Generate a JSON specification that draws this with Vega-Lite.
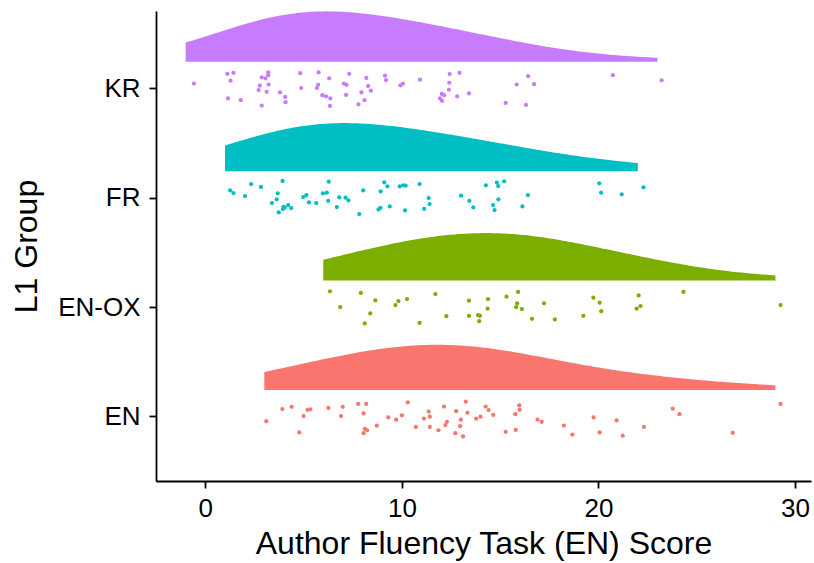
{
  "$schema": "https://vega.github.io/schema/vega-lite/v6.json",
  "autosize": {"type": "none"},
  "padding": {"left": 156, "top": 11, "right": 3, "bottom": 82},
  "width": 655,
  "height": 470,
  "config": {
    "font": "Liberation Sans",
    "view": {"stroke": null},
    "axis": {
      "domainColor": "black", "domainWidth": 1.8,
      "tickColor": "black", "tickWidth": 1.8, "tickSize": 7,
      "labelColor": "black", "labelFontSize": 26,
      "titleColor": "black", "titleFontSize": 32, "titleFontWeight": "normal",
      "grid": false
    }
  },
  "data": {"values": [
    {"g":"KR","score":-0.58,"yv":4.044},{"g":"KR","score":1.12,"yv":4.133},{"g":"KR","score":1.43,"yv":4.142},{"g":"KR","score":1.28,"yv":4.070},{"g":"KR","score":1.15,"yv":3.908},{"g":"KR","score":1.80,"yv":3.892},{"g":"KR","score":2.87,"yv":4.101},{"g":"KR","score":3.06,"yv":4.092},{"g":"KR","score":3.20,"yv":4.146},{"g":"KR","score":3.20,"yv":4.120},{"g":"KR","score":2.77,"yv":4.025},{"g":"KR","score":2.71,"yv":3.984},{"g":"KR","score":3.22,"yv":4.035},{"g":"KR","score":3.12,"yv":3.968},{"g":"KR","score":2.87,"yv":3.842},{"g":"KR","score":3.80,"yv":3.962},{"g":"KR","score":4.06,"yv":3.921},{"g":"KR","score":4.08,"yv":3.873},{"g":"KR","score":4.83,"yv":4.139},{"g":"KR","score":4.88,"yv":4.003},{"g":"KR","score":5.76,"yv":4.146},{"g":"KR","score":6.30,"yv":4.092},{"g":"KR","score":5.74,"yv":4.032},{"g":"KR","score":5.67,"yv":4.003},{"g":"KR","score":5.95,"yv":3.937},{"g":"KR","score":6.14,"yv":3.927},{"g":"KR","score":6.36,"yv":3.908},{"g":"KR","score":6.34,"yv":3.839},{"g":"KR","score":7.32,"yv":4.133},{"g":"KR","score":7.05,"yv":4.044},{"g":"KR","score":7.18,"yv":4.032},{"g":"KR","score":7.16,"yv":3.940},{"g":"KR","score":8.19,"yv":4.095},{"g":"KR","score":8.28,"yv":4.022},{"g":"KR","score":8.42,"yv":3.978},{"g":"KR","score":7.94,"yv":3.962},{"g":"KR","score":8.10,"yv":3.892},{"g":"KR","score":7.79,"yv":3.854},{"g":"KR","score":9.14,"yv":4.117},{"g":"KR","score":9.19,"yv":4.076},{"g":"KR","score":9.92,"yv":4.028},{"g":"KR","score":10.05,"yv":4.044},{"g":"KR","score":10.92,"yv":4.079},{"g":"KR","score":12.43,"yv":4.130},{"g":"KR","score":12.93,"yv":4.142},{"g":"KR","score":12.41,"yv":4.051},{"g":"KR","score":12.39,"yv":3.987},{"g":"KR","score":12.03,"yv":3.949},{"g":"KR","score":12.15,"yv":3.937},{"g":"KR","score":11.94,"yv":3.908},{"g":"KR","score":12.04,"yv":3.886},{"g":"KR","score":12.81,"yv":3.927},{"g":"KR","score":13.41,"yv":3.953},{"g":"KR","score":15.28,"yv":3.867},{"g":"KR","score":15.84,"yv":4.035},{"g":"KR","score":16.42,"yv":4.111},{"g":"KR","score":16.72,"yv":4.038},{"g":"KR","score":16.31,"yv":3.848},{"g":"KR","score":20.73,"yv":4.120},{"g":"KR","score":23.21,"yv":4.073},
    {"g":"FR","score":1.26,"yv":3.067},{"g":"FR","score":1.43,"yv":3.043},{"g":"FR","score":2.02,"yv":3.015},{"g":"FR","score":2.33,"yv":3.125},{"g":"FR","score":2.83,"yv":3.098},{"g":"FR","score":3.93,"yv":3.153},{"g":"FR","score":3.68,"yv":3.040},{"g":"FR","score":3.63,"yv":2.985},{"g":"FR","score":3.39,"yv":2.951},{"g":"FR","score":3.73,"yv":2.865},{"g":"FR","score":3.95,"yv":2.896},{"g":"FR","score":4.04,"yv":2.911},{"g":"FR","score":4.22,"yv":2.933},{"g":"FR","score":4.37,"yv":2.905},{"g":"FR","score":3.97,"yv":2.917},{"g":"FR","score":4.98,"yv":3.006},{"g":"FR","score":5.14,"yv":3.024},{"g":"FR","score":5.27,"yv":2.957},{"g":"FR","score":5.64,"yv":2.951},{"g":"FR","score":5.98,"yv":3.040},{"g":"FR","score":6.18,"yv":3.046},{"g":"FR","score":6.28,"yv":3.147},{"g":"FR","score":6.25,"yv":2.972},{"g":"FR","score":6.69,"yv":2.914},{"g":"FR","score":6.81,"yv":3.003},{"g":"FR","score":7.13,"yv":3.000},{"g":"FR","score":7.28,"yv":2.976},{"g":"FR","score":7.83,"yv":2.850},{"g":"FR","score":8.03,"yv":3.067},{"g":"FR","score":8.92,"yv":3.058},{"g":"FR","score":9.10,"yv":3.141},{"g":"FR","score":9.26,"yv":3.104},{"g":"FR","score":8.81,"yv":2.893},{"g":"FR","score":8.91,"yv":2.908},{"g":"FR","score":9.38,"yv":2.920},{"g":"FR","score":9.89,"yv":3.104},{"g":"FR","score":10.06,"yv":3.113},{"g":"FR","score":10.19,"yv":3.110},{"g":"FR","score":10.16,"yv":2.884},{"g":"FR","score":10.90,"yv":3.125},{"g":"FR","score":11.36,"yv":2.997},{"g":"FR","score":11.41,"yv":2.942},{"g":"FR","score":11.13,"yv":2.899},{"g":"FR","score":13.01,"yv":3.018},{"g":"FR","score":13.43,"yv":2.972},{"g":"FR","score":13.63,"yv":2.911},{"g":"FR","score":14.27,"yv":3.113},{"g":"FR","score":14.83,"yv":3.138},{"g":"FR","score":14.90,"yv":3.107},{"g":"FR","score":15.20,"yv":3.150},{"g":"FR","score":14.91,"yv":2.985},{"g":"FR","score":14.64,"yv":2.933},{"g":"FR","score":14.71,"yv":2.887},{"g":"FR","score":16.13,"yv":2.920},{"g":"FR","score":16.41,"yv":3.024},{"g":"FR","score":20.04,"yv":3.132},{"g":"FR","score":20.13,"yv":3.046},{"g":"FR","score":21.18,"yv":3.031},{"g":"FR","score":22.29,"yv":3.095},
    {"g":"EN-OX","score":6.34,"yv":2.144},{"g":"EN-OX","score":6.86,"yv":2.000},{"g":"EN-OX","score":7.91,"yv":2.129},{"g":"EN-OX","score":8.65,"yv":2.061},{"g":"EN-OX","score":8.39,"yv":1.942},{"g":"EN-OX","score":8.11,"yv":1.850},{"g":"EN-OX","score":9.82,"yv":2.055},{"g":"EN-OX","score":9.67,"yv":2.018},{"g":"EN-OX","score":10.26,"yv":2.073},{"g":"EN-OX","score":10.90,"yv":1.856},{"g":"EN-OX","score":11.70,"yv":2.119},{"g":"EN-OX","score":12.26,"yv":1.917},{"g":"EN-OX","score":13.41,"yv":2.058},{"g":"EN-OX","score":13.41,"yv":1.920},{"g":"EN-OX","score":13.87,"yv":1.927},{"g":"EN-OX","score":13.97,"yv":1.920},{"g":"EN-OX","score":13.93,"yv":1.871},{"g":"EN-OX","score":14.38,"yv":2.073},{"g":"EN-OX","score":14.36,"yv":1.985},{"g":"EN-OX","score":15.32,"yv":2.095},{"g":"EN-OX","score":15.91,"yv":2.138},{"g":"EN-OX","score":15.86,"yv":2.034},{"g":"EN-OX","score":15.81,"yv":2.000},{"g":"EN-OX","score":16.10,"yv":1.982},{"g":"EN-OX","score":16.62,"yv":1.893},{"g":"EN-OX","score":17.23,"yv":2.034},{"g":"EN-OX","score":17.78,"yv":1.887},{"g":"EN-OX","score":19.23,"yv":1.920},{"g":"EN-OX","score":19.74,"yv":2.086},{"g":"EN-OX","score":20.06,"yv":2.040},{"g":"EN-OX","score":20.14,"yv":1.963},{"g":"EN-OX","score":22.04,"yv":2.107},{"g":"EN-OX","score":22.14,"yv":2.009},{"g":"EN-OX","score":21.94,"yv":1.985},{"g":"EN-OX","score":24.32,"yv":2.138},{"g":"EN-OX","score":29.26,"yv":2.018},
    {"g":"EN","score":3.10,"yv":0.957},{"g":"EN","score":3.92,"yv":1.068},{"g":"EN","score":4.39,"yv":1.088},{"g":"EN","score":4.78,"yv":0.854},{"g":"EN","score":5.00,"yv":1.004},{"g":"EN","score":5.20,"yv":1.061},{"g":"EN","score":5.34,"yv":1.065},{"g":"EN","score":6.26,"yv":1.078},{"g":"EN","score":6.99,"yv":1.088},{"g":"EN","score":6.90,"yv":1.004},{"g":"EN","score":7.77,"yv":1.115},{"g":"EN","score":8.18,"yv":1.115},{"g":"EN","score":8.05,"yv":1.028},{"g":"EN","score":8.11,"yv":0.887},{"g":"EN","score":8.23,"yv":0.874},{"g":"EN","score":8.05,"yv":0.847},{"g":"EN","score":8.72,"yv":0.917},{"g":"EN","score":9.31,"yv":0.991},{"g":"EN","score":9.71,"yv":0.971},{"g":"EN","score":10.00,"yv":1.011},{"g":"EN","score":10.30,"yv":1.128},{"g":"EN","score":10.71,"yv":0.904},{"g":"EN","score":11.12,"yv":0.981},{"g":"EN","score":11.36,"yv":1.045},{"g":"EN","score":11.42,"yv":0.998},{"g":"EN","score":11.42,"yv":0.904},{"g":"EN","score":11.86,"yv":0.874},{"g":"EN","score":12.14,"yv":1.091},{"g":"EN","score":12.29,"yv":0.951},{"g":"EN","score":12.21,"yv":0.921},{"g":"EN","score":12.76,"yv":1.048},{"g":"EN","score":13.00,"yv":0.971},{"g":"EN","score":12.96,"yv":0.911},{"g":"EN","score":12.72,"yv":0.847},{"g":"EN","score":13.11,"yv":0.817},{"g":"EN","score":13.25,"yv":1.135},{"g":"EN","score":13.33,"yv":1.034},{"g":"EN","score":13.78,"yv":0.981},{"g":"EN","score":14.00,"yv":0.998},{"g":"EN","score":14.26,"yv":1.091},{"g":"EN","score":14.41,"yv":1.058},{"g":"EN","score":14.65,"yv":1.014},{"g":"EN","score":15.28,"yv":0.860},{"g":"EN","score":15.77,"yv":1.021},{"g":"EN","score":15.79,"yv":0.877},{"g":"EN","score":15.97,"yv":1.101},{"g":"EN","score":15.99,"yv":1.061},{"g":"EN","score":16.90,"yv":0.971},{"g":"EN","score":17.11,"yv":0.951},{"g":"EN","score":18.24,"yv":0.917},{"g":"EN","score":18.67,"yv":0.834},{"g":"EN","score":19.75,"yv":0.991},{"g":"EN","score":20.06,"yv":0.854},{"g":"EN","score":20.92,"yv":0.964},{"g":"EN","score":21.23,"yv":0.824},{"g":"EN","score":22.31,"yv":0.904},{"g":"EN","score":23.78,"yv":1.071},{"g":"EN","score":24.12,"yv":1.021},{"g":"EN","score":26.83,"yv":0.850},{"g":"EN","score":29.26,"yv":1.115}
  ]},
  "layer": [
    {
      "mark": {"type": "circle", "size": 18, "opacity": 1},
      "encoding": {
        "x": {"field": "score", "type": "quantitative",
              "scale": {"domain": [-2.51, 30.81], "nice": false, "zero": false},
              "axis": {"values": [0, 10, 20, 30], "title": "Author Fluency Task (EN) Score", "labelPadding": 7, "titlePadding": 7}},
        "y": {"field": "yv", "type": "quantitative",
              "scale": {"domain": [0.41, 4.707], "nice": false, "zero": false},
              "axis": {"orient": "left", "values": [1, 2, 3, 4], "title": "L1 Group", "labelPadding": 9, "titlePadding": 14,
                       "labelExpr": "datum.value === 1 ? 'EN' : datum.value === 2 ? 'EN-OX' : datum.value === 3 ? 'FR' : 'KR'"}},
        "color": {"field": "g", "type": "nominal",
                  "scale": {"domain": ["EN", "EN-OX", "FR", "KR"], "range": ["#F8766D", "#7CAE00", "#00BFC4", "#C77CFF"]},
                  "legend": null}
      }
    },
    {
      "transform": [{"filter": {"field": "g", "equal": "EN"}},
                    {"density": "score", "groupby": ["g"], "bandwidth": 4.2, "extent": [3, 29], "steps": 200, "as": ["score", "density"]}],
      "mark": {"type": "area", "clip": true},
      "encoding": {
        "x": {"field": "score", "type": "quantitative"},
        "y": {"field": "density", "type": "quantitative", "scale": {"domain": [-0.11648, 0.4851], "nice": false, "zero": false}, "axis": null},
        "y2": {"datum": 0},
        "color": {"field": "g", "type": "nominal", "legend": null}
      }
    },
    {
      "transform": [{"filter": {"field": "g", "equal": "EN-OX"}},
                    {"density": "score", "groupby": ["g"], "bandwidth": 3.8, "extent": [6, 29], "steps": 200, "as": ["score", "density"]}],
      "mark": {"type": "area", "clip": true},
      "encoding": {
        "x": {"field": "score", "type": "quantitative"},
        "y": {"field": "density", "type": "quantitative", "scale": {"domain": [-0.25648, 0.3451], "nice": false, "zero": false}, "axis": null},
        "y2": {"datum": 0},
        "color": {"field": "g", "type": "nominal", "legend": null}
      }
    },
    {
      "transform": [{"filter": {"field": "g", "equal": "FR"}},
                    {"density": "score", "groupby": ["g"], "bandwidth": 3.8, "extent": [1, 22], "steps": 200, "as": ["score", "density"]}],
      "mark": {"type": "area", "clip": true},
      "encoding": {
        "x": {"field": "score", "type": "quantitative"},
        "y": {"field": "density", "type": "quantitative", "scale": {"domain": [-0.39648, 0.2051], "nice": false, "zero": false}, "axis": null},
        "y2": {"datum": 0},
        "color": {"field": "g", "type": "nominal", "legend": null}
      }
    },
    {
      "transform": [{"filter": {"field": "g", "equal": "KR"}},
                    {"density": "score", "groupby": ["g"], "bandwidth": 3.6, "extent": [-1, 23], "steps": 200, "as": ["score", "density"]}],
      "mark": {"type": "area", "clip": true},
      "encoding": {
        "x": {"field": "score", "type": "quantitative"},
        "y": {"field": "density", "type": "quantitative", "scale": {"domain": [-0.53648, 0.0651], "nice": false, "zero": false}, "axis": null},
        "y2": {"datum": 0},
        "color": {"field": "g", "type": "nominal", "legend": null}
      }
    }
  ],
  "resolve": {"scale": {"y": "independent"}}
}
